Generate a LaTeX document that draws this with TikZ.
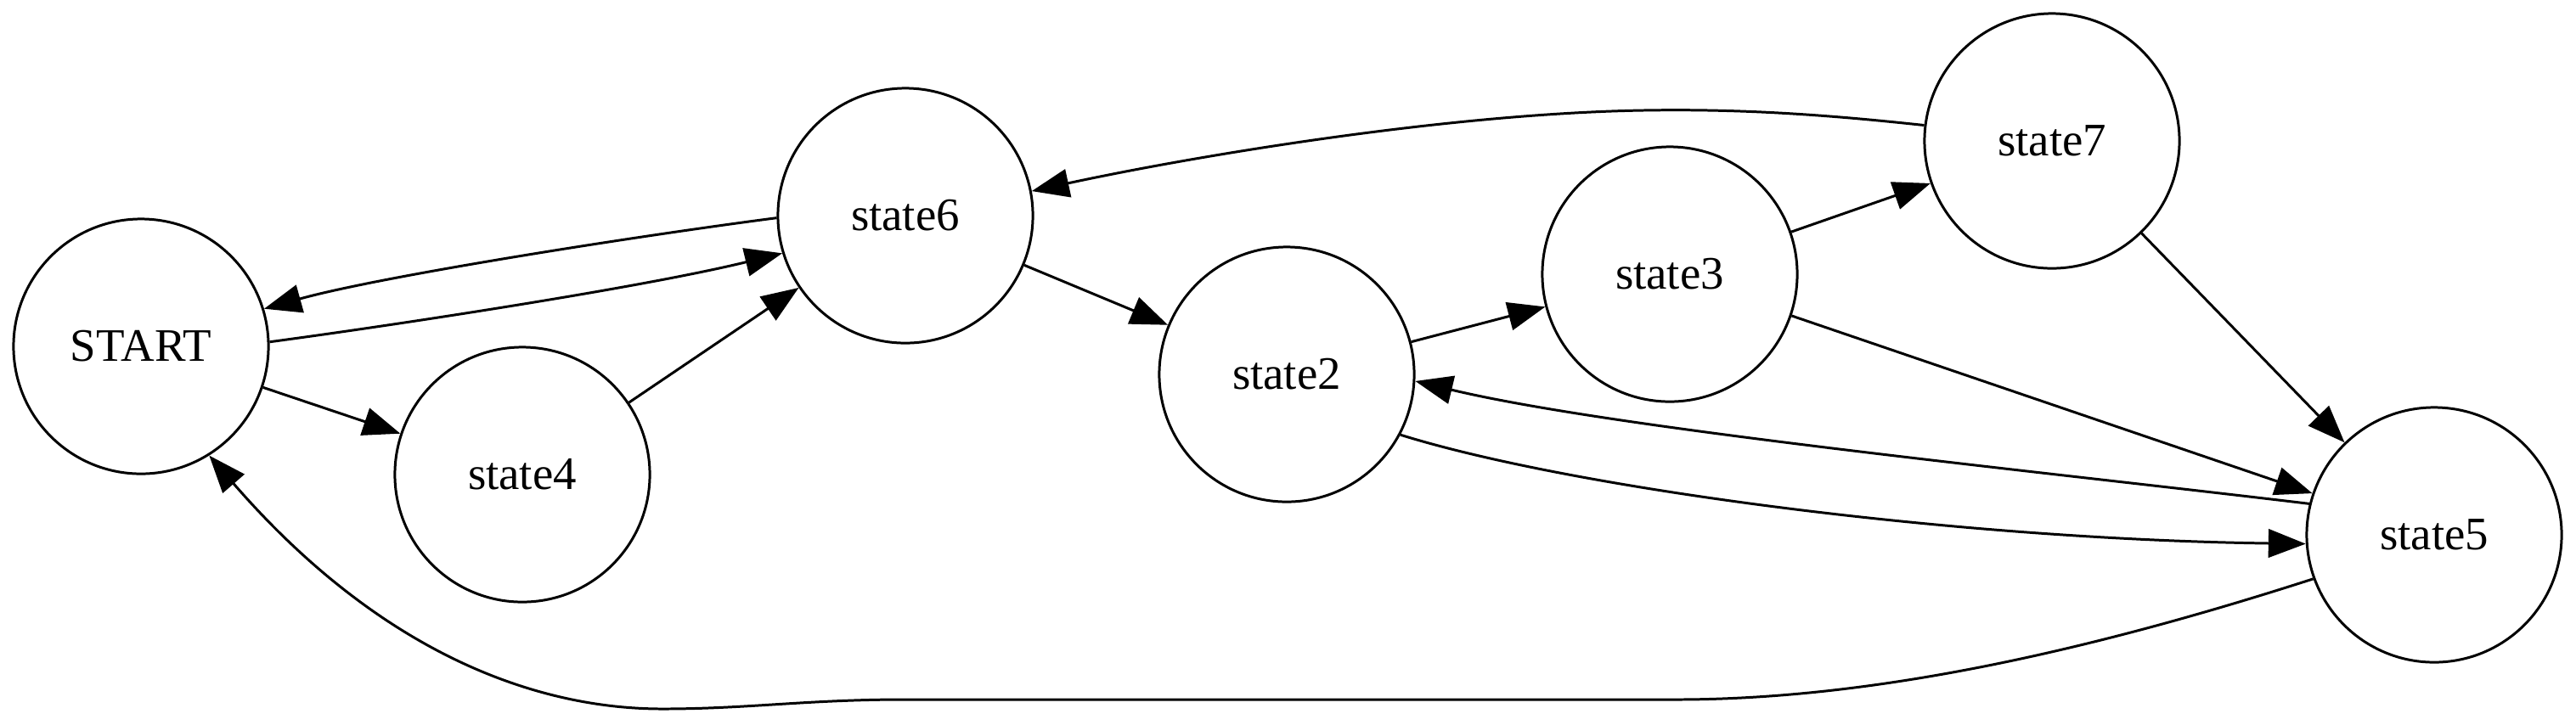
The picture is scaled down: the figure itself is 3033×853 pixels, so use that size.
\documentclass[tikz,border=0pt]{standalone}
\usepackage{fontspec}
\setmainfont{Liberation Serif}
\usetikzlibrary{arrows.meta}

\begin{document}
\begin{tikzpicture}[x=0.01cm, y=-0.01cm, line width=0.85pt,
  >={Triangle[length=12.5pt,width=9.5pt]},
  stnode/.style={circle, draw, minimum size=3cm, inner sep=0pt,
    font=\fontsize{15.6pt}{18pt}\selectfont}]
 \useasboundingbox (0,0) rectangle (3033,853);

 \node[stnode] (START)  at (166 , 408) {START};
 \node[stnode] (state4) at (615 , 559) {state4};
 \node[stnode] (state6) at (1066, 254) {state6};
 \node[stnode] (state2) at (1515, 441) {state2};
 \node[stnode] (state3) at (1966, 323) {state3};
 \node[stnode] (state7) at (2416, 166) {state7};
 \node[stnode] (state5) at (2866, 630) {state5};

 \draw[->] (START) -- (state4);
 \draw[->] (state4) -- (state6);
 \draw[->] (state6) -- (state2);
 \draw[->] (state2) -- (state3);
 \draw[->] (state3) -- (state7);
 \draw[->] (state7) -- (state5);
 \draw[->] (state3) -- (state5);

 \draw[->] (state6.181) .. controls (750,278) and (450,325) .. (START.17.5);
 \draw[->] (START.2) .. controls (450,385) and (750,340) .. (state6.197.4);
 \draw[->] (state7.173) .. controls (2150,135) and (2050,128) .. (1934,130)
   .. controls (1700,134) and (1400,185) .. (state6.11.2);
 \draw[->] (state5.166) .. controls (2400,555) and (1900,505) .. (state2.357.7);
 \draw[->] (state2.332) .. controls (1850,575) and (2300,635) .. (state5.184.6);
 \draw[->] (state5.200) .. controls (2450,770) and (2200,824) .. (1973,824)
   -- (1064,824) .. controls (950,824) and (880,835) .. (780,835)
   .. controls (620,835) and (440,760) .. (START.302.4);
\end{tikzpicture}
\end{document}
